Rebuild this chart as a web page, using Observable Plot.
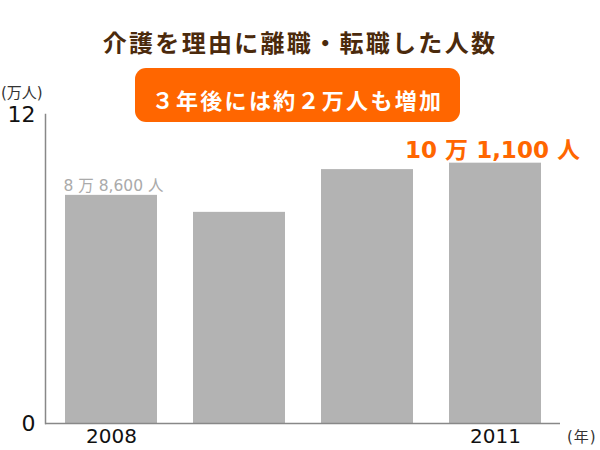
<!DOCTYPE html>
<html><head><meta charset="utf-8">
<script src="https://cdn.jsdelivr.net/npm/d3@7"></script>
<script src="https://cdn.jsdelivr.net/npm/@observablehq/plot@0.6"></script>
<style>
body{margin:0;background:#fff;}
#wrap{position:relative;width:600px;height:450px;overflow:hidden;font-family:"DejaVu Sans","Noto Sans CJK JP",sans-serif;}
#chart{position:absolute;left:0;top:0;z-index:1;}
#title{position:absolute;z-index:2;left:0;width:600px;top:27px;text-align:center;font-size:24px;font-weight:bold;color:#4b2a0c;letter-spacing:2.3px;font-family:"Noto Sans CJK JP",sans-serif;line-height:30px;}
#box{position:absolute;z-index:2;left:135px;top:68px;width:325px;height:54px;background:#ff6600;border-radius:11px;color:#fff;font-weight:bold;font-size:22px;line-height:54px;text-align:center;letter-spacing:2.3px;font-family:"Noto Sans CJK JP",sans-serif;padding-top:4px;box-sizing:border-box;}
.unit{position:absolute;z-index:2;font-size:15px;color:#333;font-family:"DejaVu Sans","Noto Sans CJK JP",sans-serif;line-height:18px;}
</style>
</head><body>
<div id="wrap">
  <div id="chart"></div>
  <div id="title"></div>
  <div id="box"></div>
  <div class="unit" id="yunit" style="left:1px;top:84px;"></div>
  <div class="unit" id="xunit" style="left:567px;top:428px;letter-spacing:1px;"></div>
</div>
<script>
const titleText = "介護を理由に離職・転職した人数";
const boxText = "３年後には約２万人も増加";
const yUnit = "(万人)";
const xUnit = "(年)";
const years = ["2008", "2009", "2010", "2011"];
const values = [8.86, 8.2, 9.86, 10.11];
const xTickLabels = ["2008", "2011"];
const yTickValues = [0, 12];
const firstLabel = "8 万 8,600 人";
const lastLabel = "10 万 1,100 人";

document.getElementById("title").textContent = titleText;
document.getElementById("box").textContent = boxText;
document.getElementById("yunit").textContent = yUnit;
document.getElementById("xunit").textContent = xUnit;

const data = years.map((y, i) => ({year: y, value: values[i]}));
const firstData = [{year: years[0], value: values[0], text: firstLabel}];
const lastData = [{year: years[3], value: values[3], text: lastLabel}];

const chart = Plot.plot({
  width: 600,
  height: 450,
  marginTop: 114,
  marginBottom: 27,
  marginLeft: 45,
  marginRight: 40,
  style: {fontFamily: "'DejaVu Sans','Noto Sans CJK JP',sans-serif", background: "transparent"},
  x: {domain: years, paddingInner: 0.285, paddingOuter: 0.14, axis: null},
  y: {domain: [0, 12], axis: null},
  marks: [
    Plot.barY(data, {x: "year", y: "value", fill: "#b3b3b3"}),
    Plot.frame({anchor: "left", stroke: "#888", strokeWidth: 1.5}),
    Plot.ruleY([0], {stroke: "#888", strokeWidth: 1.5}),
    Plot.axisY(yTickValues, {tickSize: 0, tickPadding: 10, fontSize: 22, fill: "#111", label: null}),
    Plot.axisX(xTickLabels, {tickSize: 0, tickPadding: 5, fontSize: 20, fill: "#111", label: null}),
    Plot.text(firstData, {x: "year", y: "value", text: "text", dx: 2, dy: -9, fontSize: 15.5, fill: "#aaaaaa"}),
    Plot.text(lastData, {x: "year", y: "value", text: "text", dx: -3, dy: -13, fontSize: 23, fontWeight: "bold", fill: "#ff6600"})
  ]
});
document.getElementById("chart").appendChild(chart);
</script>
</body></html>
